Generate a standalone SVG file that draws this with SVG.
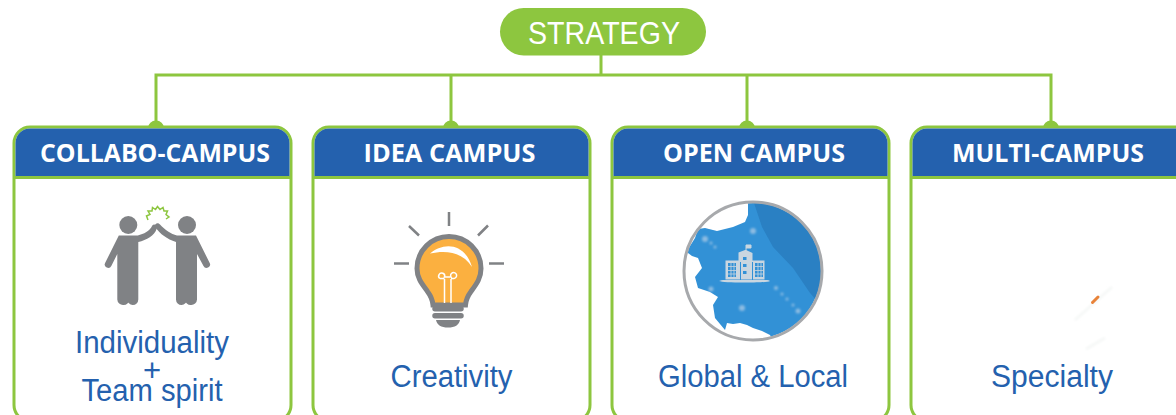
<svg xmlns="http://www.w3.org/2000/svg" width="1176" height="415" viewBox="0 0 1176 415">
<style>
.card{fill:#fff;stroke:#8dc63f;stroke-width:3}
.head{fill:#2461ae}
.rule{stroke:#8dc63f;stroke-width:3}
.nub{fill:#8dc63f}
.ht{font-family:"Open Sans","Liberation Sans",sans-serif;font-weight:700;font-size:25px;fill:#fff;text-anchor:middle}
.bt{font-family:"Liberation Sans",Arial,sans-serif;font-size:31px;fill:#2461ae;text-anchor:middle}
.conn{fill:none;stroke:#8dc63f;stroke-width:3}
.person{fill:#808285}
.ray{stroke:#808285;stroke-width:2.500;fill:none}
.city{fill:#a9c9e6;opacity:.75}
.bld{fill:#c9d6e0}
.win{fill:#3291d6}
</style>
<defs>
<clipPath id="mapclip"><circle cx="753" cy="271" r="68"/></clipPath>
<filter id="soft" x="-10%" y="-10%" width="120%" height="120%"><feGaussianBlur stdDeviation="0.400"/></filter>
<filter id="softer" x="-50%" y="-50%" width="200%" height="200%"><feGaussianBlur stdDeviation="1"/></filter>
</defs>

<g id="connectors">
<path class="conn" d="M601 55V75M156 127V75H1051V127M451 75V127M747 75V127"/>
<path class="nub" d="M148 128a8 7.500 0 0 1 16 0zM443 128a8 7.500 0 0 1 16 0zM739 128a8 7.500 0 0 1 16 0zM1043 128a8 7.500 0 0 1 16 0z"/>
</g>

<g id="strategy">
<rect x="500" y="8" width="206" height="47.500" rx="23.700" fill="#8dc63f"/>
<text x="604" y="44" textLength="152" lengthAdjust="spacingAndGlyphs" font-family="Liberation Sans, Arial, sans-serif" font-size="31" fill="#fff" text-anchor="middle">STRATEGY</text>
</g>

<g id="collabo-campus">
<rect class="card" x="14" y="127" width="277" height="294" rx="16"/>
<path class="head" d="M15.500 176V143a14.500 14.500 0 0 1 14.500-14.500H275a14.500 14.500 0 0 1 14.500 14.500V176z"/>
<path class="rule" d="M14 177.500H291"/>
<text class="ht" x="155" y="162" textLength="230" lengthAdjust="spacingAndGlyphs">COLLABO-CAMPUS</text>
<g filter="url(#soft)">
<circle class="person" cx="128.300" cy="225" r="9"/>
<circle class="person" cx="187" cy="225" r="9"/>
<path class="person" d="M119 235.500H138C144 234 150 231 152.500 225.500C154 223 158 225 157 228.500C154.500 236 147 240 138.500 242V299.500a5.500 5.500 0 0 1-5.600 5.500a5.700 5.700 0 0 1-5.400-5.500V273H129.500V299.500a5.700 5.700 0 0 1-5.900 5.500a5.700 5.700 0 0 1-6.100-5.500V254L111.500 266a3.400 3.400 0 0 1-6.200-3z" transform="translate(-.2 0)"/>
<path class="person" d="M196 235.500H177C171 234 165 230 160 224.500C157.500 221.500 153.500 224 155.500 227.500C160 234 167 239 176 242V299.500a5.500 5.500 0 0 0 5.600 5.500a5.700 5.700 0 0 0 5.400-5.500V273H185V299.500a5.700 5.700 0 0 0 5.900 5.500a5.700 5.700 0 0 0 6.100-5.500V254L203.500 266a3.400 3.400 0 0 0 6.200-3z"/>
</g>
<path fill="none" stroke="#8dc63f" stroke-width="1.500" d="M148 220L146.500 216L150 214.500L148 211L152 211L152.500 207.500L155.500 209.500L157.500 206.500L160 209.500L163 207.500L164 211L167.500 211L166 214.500L169 217L166 219"/>
<text class="bt" x="152" y="353" textLength="154" lengthAdjust="spacingAndGlyphs">Individuality</text>
<text class="bt" x="152" y="381">+</text>
<text class="bt" x="152" y="401" textLength="141" lengthAdjust="spacingAndGlyphs">Team spirit</text>
</g>

<g id="idea-campus">
<rect class="card" x="313" y="127" width="277" height="294" rx="16"/>
<path class="head" d="M314.500 176V143a14.500 14.500 0 0 1 14.500-14.500H574a14.500 14.500 0 0 1 14.500 14.500V176z"/>
<path class="rule" d="M313 177.500H590"/>
<text class="ht" x="449.500" y="162" textLength="172" lengthAdjust="spacingAndGlyphs">IDEA CAMPUS</text>
<path class="ray" d="M449 212V226M409 226L419 235.500M488 225.500L478 235.500M394 263.500H409M489 263.500H504"/>
<path d="M449 236.500a32 32 0 0 1 32 32c0 10-5 16-10 23c-3 4-5 8-5.500 13.500H433c-.500-5.500-2.500-9.500-5.500-13.500c-5-7-10.500-13-10.500-23a32 32 0 0 1 32-32z" fill="#fbb040" stroke="#808285" stroke-width="5"/>
<path d="M430 253.500C442 243 464 241 472 267C464 254 449 249 430 253.500z" fill="#fff"/>
<path d="M444.500 303V279M451 303V279M440 278.500a3 3 0 1 1 4.500-1.500H451a3 3 0 1 1 3 1.500M440 278.500H444.500M451 278.500H454" fill="none" stroke="#fff" stroke-width="1.500"/>
<path d="M435 306H461a2.500 2.500 0 0 1 0 5.500H435a2.500 2.500 0 0 1 0-5.500zM435 313H461a2.500 2.500 0 0 1 0 5.500H435a2.500 2.500 0 0 1 0-5.500zM436 320H460C459 325 455 327.500 448 327.500C441 327.500 437 325 436 320z" fill="#808285"/>
<text class="bt" x="451.500" y="387" textLength="122" lengthAdjust="spacingAndGlyphs">Creativity</text>
</g>

<g id="open-campus">
<rect class="card" x="612" y="127" width="277" height="294" rx="16"/>
<path class="head" d="M613.500 176V143a14.500 14.500 0 0 1 14.500-14.500H873a14.500 14.500 0 0 1 14.500 14.500V176z"/>
<path class="rule" d="M612 177.500H889"/>
<text class="ht" x="754" y="162" textLength="182" lengthAdjust="spacingAndGlyphs">OPEN CAMPUS</text>
<circle cx="753" cy="271" r="69" fill="#fff"/>
<g clip-path="url(#mapclip)">
<path filter="url(#soft)" fill="#3291d6" d="M748 200L748 215L745 222L733 227L717 231L705 228L698 229L695 238L690 246L684 250L692 256L698 258L702 268L695 277L698 288L710 292L718 297L713 305L715 318L725 330L727 323L733 324L740 323L747 325L753 328L762 331L770 335L775 345H830V200z"/>
<path fill="#2a80c3" d="M753 200L762 227L773 247L793 268L810 293L818 302L830 295V200z"/>
<g filter="url(#softer)">
<circle class="city" cx="705" cy="239" r="3"/><circle class="city" cx="753" cy="231" r="3"/><circle class="city" cx="711" cy="289" r="2.500"/><circle class="city" cx="742" cy="308" r="3"/><circle class="city" cx="776" cy="288" r="2"/><circle class="city" cx="782" cy="294" r="1.500"/><circle class="city" cx="787" cy="299" r="1.500"/><circle class="city" cx="793" cy="305" r="1.500"/><circle class="city" cx="798" cy="311" r="2.500"/><circle class="city" cx="711" cy="243" r="1.500"/><circle class="city" cx="715" cy="247" r="1.500"/>
</g>
</g>
<circle cx="753" cy="271" r="69" fill="none" stroke="#a7a9ac" stroke-width="3"/>
<path class="bld" d="M725.500 280H765C768 280 770 280.500 770 281C768 282 762 282.500 745 282.500C730 282.500 722 282 719 281C720 280.500 722 280 725.500 280z"/>
<path d="M746 252V245H751V248H746" fill="#c9d6e0" stroke="#c9d6e0"/>
<path class="bld" d="M725.500 260.500H738.500V252.500L745 250H746L752.500 253V260.500H764.500V279.500H725.500z"/>
<g class="win">
<rect x="728" y="263" width="8" height="14"/><rect x="755" y="263" width="8" height="14"/>
<rect x="743" y="257" width="3.500" height="3"/><rect x="743" y="264" width="3.500" height="3"/><rect x="743" y="271" width="3.500" height="3"/>
<rect x="740" y="262" width="1" height="18"/><rect x="752" y="262" width="1" height="18"/>
</g>
<path d="M728 266.500H736M728 270.500H736M728 274H736M755 266.500H763M755 270.500H763M755 274H763M731 263V277M734 263V277M758 263V277M761 263V277" stroke="#c9d6e0" stroke-width=".8"/>
<text class="bt" x="753" y="387" textLength="190" lengthAdjust="spacingAndGlyphs">Global &amp; Local</text>
</g>

<g id="multi-campus">
<rect class="card" x="911" y="127" width="300" height="294" rx="16"/>
<path class="head" d="M912.500 176V143a14.500 14.500 0 0 1 14.500-14.500H1176V176z"/>
<path class="rule" d="M911 177.500H1176"/>
<text class="ht" x="1048" y="162" textLength="192" lengthAdjust="spacingAndGlyphs">MULTI-CAMPUS</text>
<path d="M1075 320L1112 287M1086 349L1105 338" stroke="#f6f8f7" stroke-width="3" fill="none" filter="url(#softer)"/>
<path d="M1092.500 302.500L1098 297" stroke="#e8833a" stroke-width="3" stroke-linecap="round"/>
<text class="bt" x="1052" y="387" textLength="122" lengthAdjust="spacingAndGlyphs">Specialty</text>
</g>
</svg>
